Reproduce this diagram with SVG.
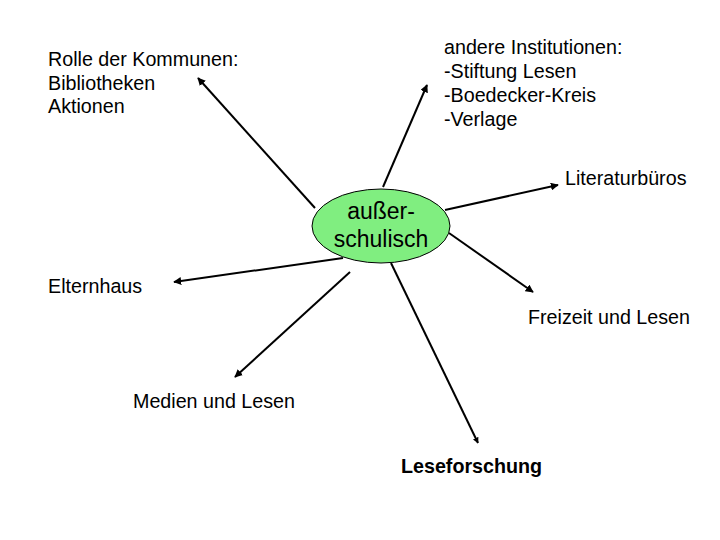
<svg xmlns="http://www.w3.org/2000/svg" width="720" height="540" viewBox="0 0 720 540">
<style>
text{font-family:"Liberation Sans",Arial,sans-serif;font-size:19.7px;fill:#000}
.c{stroke:#000;stroke-width:2;fill:none}
.big{font-size:23px}
</style>
<defs>
<marker id="a" viewBox="0 0 10 10" refX="9" refY="5" markerWidth="4" markerHeight="4" orient="auto"><path d="M0,0L10,5L0,10z" fill="#000"/></marker>
<marker id="b" viewBox="0 0 10 10" refX="9" refY="5" markerWidth="3" markerHeight="3" orient="auto"><path d="M0,0L10,5L0,10z" fill="#000"/></marker>
</defs>
<rect width="720" height="540" fill="#fff"/>
<g id="connectors">
<line class="c" x1="315" y1="208" x2="198" y2="78" marker-end="url(#a)"/>
<line class="c" x1="383" y1="187" x2="427" y2="85" marker-end="url(#a)"/>
<line class="c" x1="445" y1="210" x2="558" y2="185" marker-end="url(#a)"/>
<line class="c" x1="449" y1="233" x2="533" y2="292" marker-end="url(#a)"/>
<line class="c" x1="343" y1="258" x2="174" y2="282" marker-end="url(#a)"/>
<line class="c" x1="350" y1="272" x2="235" y2="377" marker-end="url(#a)"/>
<line class="c" x1="391" y1="263" x2="478" y2="443" stroke-width="4.5" marker-end="url(#b)"/>
</g>
<g id="center">
<ellipse cx="381" cy="226" rx="69" ry="37" fill="#80ee80" stroke="#000" stroke-width="1"/>
<text class="big" x="381" y="219" text-anchor="middle">außer-</text>
<text class="big" x="381" y="247" text-anchor="middle">schulisch</text>
</g>
<g id="rolle">
<text x="48" y="66">Rolle der Kommunen:</text>
<text x="48" y="90">Bibliotheken</text>
<text x="48" y="113">Aktionen</text>
</g>
<g id="andere">
<text x="444" y="54">andere Institutionen:</text>
<text x="444" y="78">-Stiftung Lesen</text>
<text x="444" y="102">-Boedecker-Kreis</text>
<text x="444" y="126">-Verlage</text>
</g>
<g id="literatur"><text x="565" y="185">Literaturbüros</text></g>
<g id="freizeit"><text x="528" y="324">Freizeit und Lesen</text></g>
<g id="eltern"><text x="48" y="293">Elternhaus</text></g>
<g id="medien"><text x="133" y="408">Medien und Lesen</text></g>
<g id="leseforschung"><text x="401" y="473" font-weight="bold" font-size="20.3px">Leseforschung</text></g>
</svg>
